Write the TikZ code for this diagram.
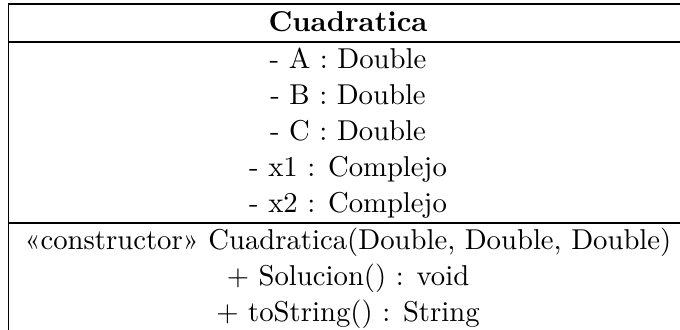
\documentclass[tikz,border=0pt]{standalone}
\begin{document}
\begin{tikzpicture}[x=0.3484pt,y=-0.3484pt,
  boxline/.style={line width=0.4pt, draw=black},
  row/.style={anchor=base, inner sep=0pt, font=\fontsize{10}{12}\selectfont}]
\useasboundingbox (0,0) rectangle (680,329);
\clip (0,0) rectangle (680,329);
\draw[boxline] (8.5,335) -- (8.5,4) -- (687,4) -- (687,335);
\draw[boxline] (8.5,42) -- (687,42);
\draw[boxline] (8.5,223) -- (687,223);
\draw[boxline] (8.5,331.5) -- (687,331.5);
\node[row, font=\fontsize{10}{12}\selectfont\bfseries] (title) at (348,31) {Cuadratica};
\node[row] (a) at (348,68) {- A : Double};
\node[row] (b) at (348,104) {- B : Double};
\node[row] (c) at (348,140) {- C : Double};
\node[row] (x1) at (348,176) {- x1 : Complejo};
\node[row] (x2) at (348,212) {- x2 : Complejo};
\node[row] (ctor) at (348,249) {«constructor» Cuadratica(Double, Double, Double)};
\node[row] (sol) at (348,285) {+ Solucion() : void};
\node[row] (ts) at (348,321) {+ toString() : String};
\end{tikzpicture}
\end{document}
